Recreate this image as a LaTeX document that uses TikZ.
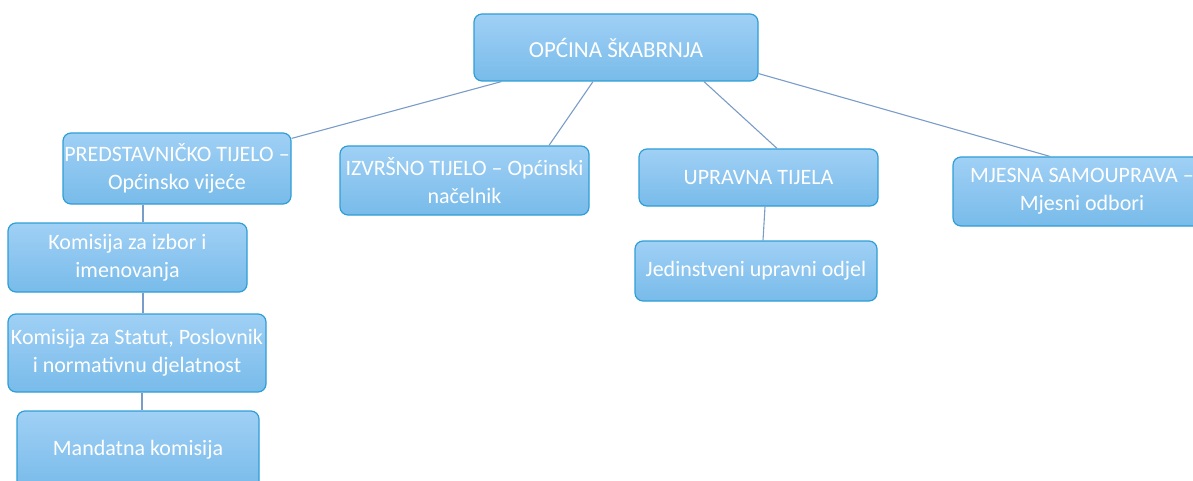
\documentclass[tikz,border=0pt]{standalone}
\usepackage{fontspec}
\setmainfont{Carlito}
\definecolor{boxtop}{RGB}{160,208,245}
\definecolor{boxbot}{RGB}{120,187,234}
\definecolor{boxline}{RGB}{47,158,214}
\definecolor{linkline}{RGB}{122,156,200}
\begin{document}
\begin{tikzpicture}[x=1pt, y=-1pt,
    unit/.style={draw=boxline, line width=1.2pt, rounded corners=8pt, top color=boxtop, bottom color=boxbot,
      text=white, align=center, inner sep=0pt, font=\fontsize{22}{28}\selectfont},
    link/.style={draw=linkline, line width=1.1pt}]
  \useasboundingbox (0,0) rectangle (1193,481);
  \clip (0,0) rectangle (1193,481);

  \node[unit, minimum width=284pt, minimum height=67pt, font=\fontsize{23}{28}\selectfont] (top) at (616, 47.5) {OPĆINA ŠKABRNJA};
  \node[unit, minimum width=228pt, minimum height=71pt] (pred) at (177, 168.5) {PREDSTAVNIČKO TIJELO –\\Općinsko vijeće};
  \node[unit, minimum width=249pt, minimum height=69pt] (izv) at (464.5, 180.5) {IZVRŠNO TIJELO – Općinski\\načelnik};
  \node[unit, minimum width=239pt, minimum height=57pt] (upr) at (758.5, 177.5) {UPRAVNA TIJELA};
  \node[unit, minimum width=258pt, minimum height=69pt] (mjesna) at (1082, 191.5) {MJESNA SAMOUPRAVA –\\Mjesni odbori};
  \node[unit, minimum width=242pt, minimum height=60pt] (jed) at (756, 271) {Jedinstveni upravni odjel};
  \node[unit, minimum width=239pt, minimum height=69pt] (kom1) at (127.5, 257.5) {Komisija za izbor i\\imenovanja};
  \node[unit, minimum width=258pt, minimum height=78pt] (kom2) at (137, 353) {Komisija za Statut, Poslovnik\\i normativnu djelatnost};
  \node[unit, minimum width=242pt, minimum height=78pt] (mand) at (138, 450) {Mandatna komisija};

  \draw[link] ([xshift=28pt]top.south west) -- ([yshift=-6pt]pred.north east);
  \draw[link] ([xshift=-23pt]top.south) -- ([xshift=84.5pt]izv.north);
  \draw[link] ([xshift=88pt]top.south) -- ([xshift=18.5pt]upr.north);
  \draw[link] ([yshift=8pt]top.south east) -- ([xshift=-32pt]mjesna.north);
  \draw[link] ([xshift=-34pt]pred.south) -- ([xshift=15.5pt]kom1.north);
  \draw[link] ([xshift=15.5pt]kom1.south) -- ([xshift=6pt]kom2.north);
  \draw[link] ([xshift=5pt]kom2.south) -- ([xshift=4pt]mand.north);
  \draw[link] ([xshift=6.5pt]upr.south) -- ([xshift=7pt]jed.north);
\end{tikzpicture}
\end{document}
